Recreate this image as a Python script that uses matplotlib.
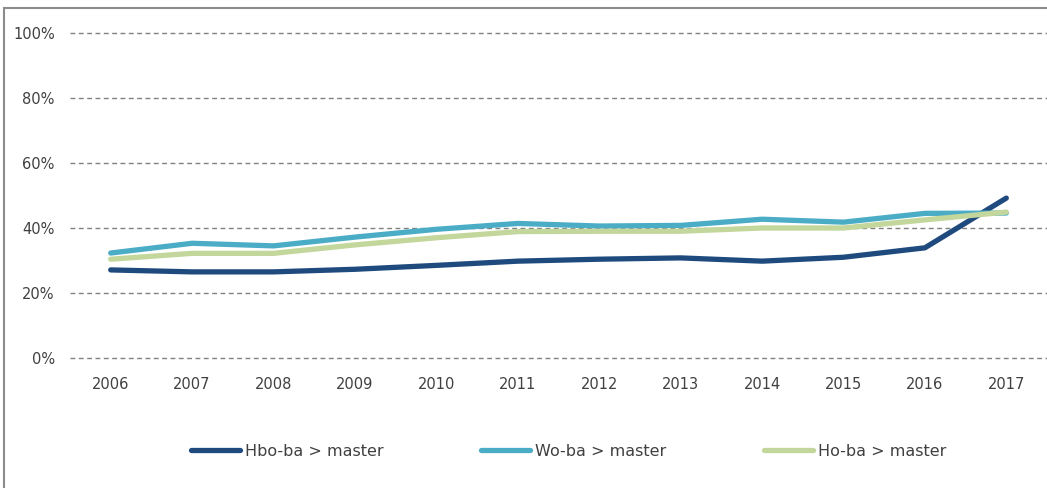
import matplotlib
matplotlib.use("Agg")
import matplotlib.pyplot as plt
from matplotlib.patches import Rectangle

# jaartallen en percentages
years = ["2006", "2007", "2008", "2009", "2010", "2011",
         "2012", "2013", "2014", "2015", "2016", "2017"]
hbo_ba = [27.1, 26.5, 26.5, 27.3, 28.5, 29.8, 30.4, 30.8, 29.8, 31.0, 33.9, 49.2]
wo_ba = [32.3, 35.3, 34.5, 37.2, 39.6, 41.4, 40.6, 40.8, 42.7, 41.8, 44.5, 44.6]
ho_ba = [30.4, 32.2, 32.2, 34.8, 37.0, 38.9, 39.0, 39.0, 40.0, 40.0, 42.5, 44.9]
labels = ["Hbo-ba > master", "Wo-ba > master", "Ho-ba > master"]
colors = ["#1f4a7e", "#4bacc6", "#c3d69b"]

fig = plt.figure(figsize=(10.47, 4.88), dpi=100)
ax = fig.add_axes([70 / 1047, 1 - 358 / 488, 1 - 70 / 1047, (358 - 33) / 488])

x = range(len(years))
for vals, lab, col in zip([hbo_ba, wo_ba, ho_ba], labels, colors):
    ax.plot(x, vals, color=col, lw=3.8, label=lab, solid_capstyle="round")

ax.set_xlim(-0.5, len(years) - 0.5)
ax.set_ylim(0, 100)
ax.set_yticks([0, 20, 40, 60, 80, 100])
ax.set_yticklabels([f"{v}%" for v in [0, 20, 40, 60, 80, 100]])
ax.set_xticks(list(x))
ax.set_xticklabels(years)
ax.yaxis.grid(True, color="#808080", linestyle=(0, (3.5, 2.5)), lw=1)
for gl in ax.get_ygridlines():
    gl.set_clip_on(False)
ax.set_axisbelow(True)
for s in ax.spines.values():
    s.set_visible(False)
ax.tick_params(length=0, labelsize=10.5, colors="#404040")
ax.tick_params(axis="y", pad=11)
ax.tick_params(axis="x", pad=14)

fig.legend(loc="center", bbox_to_anchor=(0.543, 1 - 451 / 488), ncol=3,
           frameon=False, fontsize=11.5, handlelength=3.1, handletextpad=0.3,
           columnspacing=6.1, labelcolor="#404040")

fig.patches.append(Rectangle((4 / 1047, -0.1), 1.2, 1 - 8 / 488 + 0.1,
                             transform=fig.transFigure, fill=False,
                             edgecolor="#8c8c8c", lw=1.5))

fig.savefig("out.png", dpi=100)
